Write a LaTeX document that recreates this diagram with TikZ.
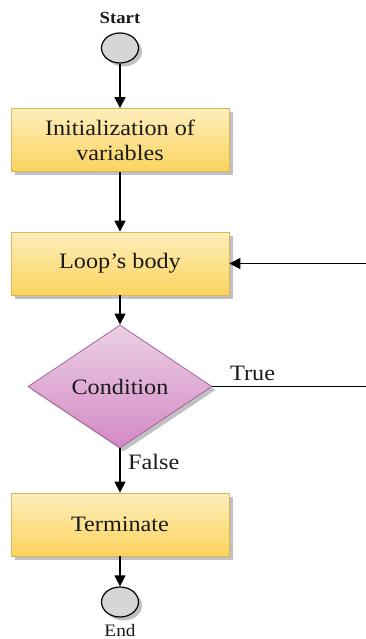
\documentclass[tikz,border=0pt]{standalone}
\usepackage{fontspec}
\setmainfont{Liberation Serif}[FakeStretch=1.1]
\usetikzlibrary{shapes.geometric,arrows.meta,shadows}

\definecolor{boxtop}{HTML}{FDEEBB}
\definecolor{boxbot}{HTML}{FBD35E}
\definecolor{boxline}{HTML}{D9B45C}
\definecolor{dtop}{HTML}{EBD0E5}
\definecolor{dbot}{HTML}{D489C5}
\definecolor{dline}{HTML}{A0649A}
\definecolor{termfill}{HTML}{D6D6D6}
\definecolor{ink}{HTML}{1A1A1A}

\tikzset{
  softshadow/.style={drop shadow={shadow xshift=3.5pt,shadow yshift=-3.5pt,opacity=0.35,fill=black!70}},
  procbox/.style={rectangle, minimum width=218pt, minimum height=63pt,
    top color=boxtop, bottom color=boxbot, draw=boxline, line width=0.8pt,
    softshadow, font=\fontsize{22}{25}\selectfont, text=ink, align=center, inner sep=0pt},
  decision/.style={diamond, aspect=1.5, minimum width=184pt, minimum height=123pt,
    top color=dtop, bottom color=dbot, draw=dline, line width=0.8pt,
    softshadow, font=\fontsize{22}{25}\selectfont, text=ink, inner sep=0pt},
  endpoint/.style={ellipse, minimum width=37pt, minimum height=30pt, inner sep=0pt,
    fill=termfill, draw=black, line width=1.2pt, softshadow},
  smalltext/.style={font=\fontsize{17.5}{20}\selectfont, text=ink, inner sep=0pt},
  labeltext/.style={font=\fontsize{22}{25}\selectfont, text=ink, inner sep=0pt},
  flow/.style={-{Triangle[length=11pt,width=11pt]}, line width=1.2pt, draw=black},
  plainline/.style={line width=1.2pt, draw=black}
}

\begin{document}
\begin{tikzpicture}[x=1pt,y=-1pt]
  \useasboundingbox (0,0) rectangle (366,639);

  % terminals
  \node[smalltext, font=\fontsize{17}{20}\selectfont\bfseries] (startlbl) at (120,17.5) {Start};
  \node[endpoint] (start) at (120,48) {};
  \node[endpoint] (finish) at (120,602) {};
  \node[smalltext, anchor=base] (endlbl) at (120,636) {End};

  % process steps
  \node[procbox] (init) at (120,140) {Initialization of\\variables};
  \node[procbox] (body) at (120,263.5) {Loop\char"27 s body};
  \node[decision] (cond) at (120,386.5) {Condition};
  \node[procbox] (term) at (120,524.5) {Terminate};

  % loop-back ends at the right edge
  \coordinate (trueend) at (366,386.5);
  \coordinate (backstart) at (366,263.5);

  % connectors
  \draw[flow] (start) -- (init);
  \draw[flow] (init) -- (body);
  \draw[flow] (body) -- (cond);
  \draw[flow] (cond) -- (term);
  \draw[flow] (term) -- (finish);
  \draw[plainline] (cond.east) -- (trueend);
  \draw[flow] (backstart) -- (body.east);

  % branch labels
  \node[labeltext, anchor=base west] (truelbl) at (230,380) {True};
  \node[labeltext, anchor=base west] (falselbl) at (128,469) {False};
\end{tikzpicture}
\end{document}
